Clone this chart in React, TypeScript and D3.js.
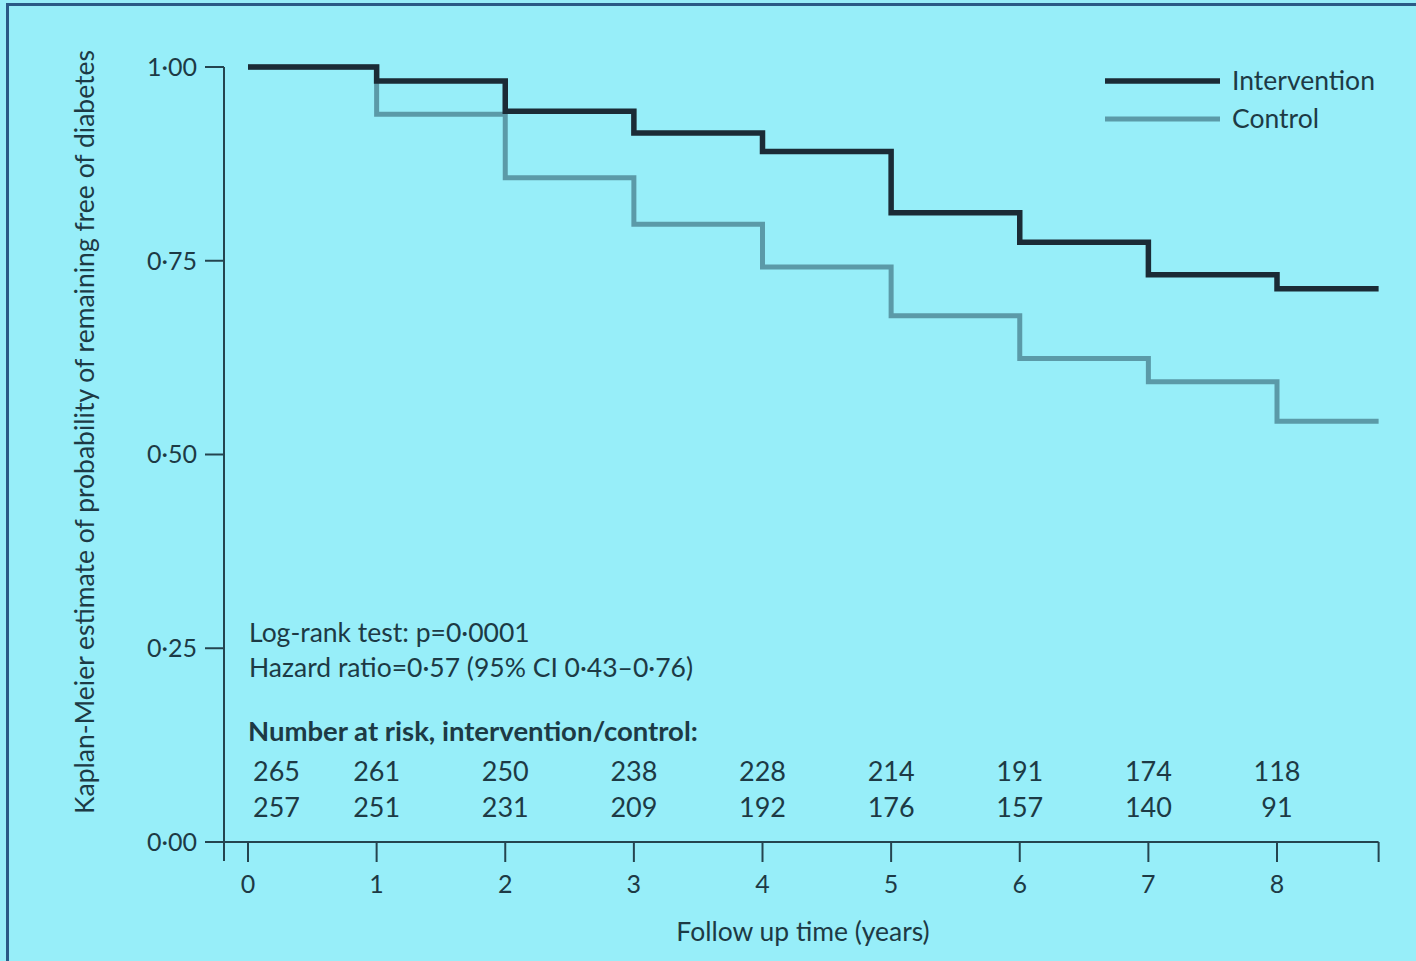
import React, { useEffect, useRef } from 'react';
import * as d3 from 'd3';

// follow-up years where the curves step down
const years = [0, 1, 2, 3, 4, 5, 6, 7, 8];
const endYear = 8.79;
const intervention = [1.0, 0.982, 0.943, 0.915, 0.891, 0.812, 0.774, 0.732, 0.714];
const control = [1.0, 0.939, 0.857, 0.797, 0.742, 0.679, 0.624, 0.594, 0.543];
const yTicks = [0, 0.25, 0.5, 0.75, 1];
const riskIntervention = [265, 261, 250, 238, 228, 214, 191, 174, 118];
const riskControl = [257, 251, 231, 209, 192, 176, 157, 140, 91];

const W = 1416;
const H = 961;
const FONT = 'Lato, "Open Sans", sans-serif';
const TXT = '#1d3a45';
const AXIS = '#24444f';

export default function App() {
  const svgRef = useRef<SVGSVGElement>(null);

  useEffect(() => {
    const svg = d3.select(svgRef.current);
    svg.selectAll('*').remove();

    const x = d3.scaleLinear().domain([0, 8]).range([248, 1277]);
    const y = d3.scaleLinear().domain([0, 1]).range([842, 67]);

    // background + frame
    svg.append('rect').attr('width', W).attr('height', H).attr('fill', '#97eef9');
    svg.append('rect')
      .attr('x', 7.5).attr('y', 4.5).attr('width', W + 20).attr('height', H + 20)
      .attr('fill', 'none').attr('stroke', '#2a5a86').attr('stroke-width', 3);

    // y axis
    const gy = svg.append('g');
    gy.append('line')
      .attr('x1', 224).attr('x2', 224).attr('y1', y(1)).attr('y2', 861)
      .attr('stroke', AXIS).attr('stroke-width', 2);
    gy.selectAll('line.tick').data(yTicks).enter().append('line')
      .attr('class', 'tick')
      .attr('x1', 205).attr('x2', 224)
      .attr('y1', d => y(d)).attr('y2', d => y(d))
      .attr('stroke', AXIS).attr('stroke-width', 2);
    gy.selectAll('text').data(yTicks).enter().append('text')
      .attr('x', 197).attr('y', d => y(d))
      .attr('dy', '0.35em')
      .attr('text-anchor', 'end')
      .attr('font-family', FONT).attr('font-size', 25).attr('fill', TXT)
      .text(d => d3.format('.2f')(d).replace('.', '·'));

    svg.append('text')
      .attr('transform', 'translate(85,432) rotate(-90)')
      .attr('dy', '0.35em')
      .attr('text-anchor', 'middle')
      .attr('font-family', FONT).attr('font-size', 26.5).attr('fill', TXT)
      .text('Kaplan-Meier estimate of probability of remaining free of diabetes');

    // x axis
    const gx = svg.append('g');
    gx.append('line')
      .attr('x1', 205).attr('x2', x(endYear)).attr('y1', 842).attr('y2', 842)
      .attr('stroke', AXIS).attr('stroke-width', 2);
    gx.selectAll('line.tick').data([...years, endYear]).enter().append('line')
      .attr('class', 'tick')
      .attr('x1', d => x(d)).attr('x2', d => x(d))
      .attr('y1', 842).attr('y2', 862)
      .attr('stroke', AXIS).attr('stroke-width', 2);
    gx.selectAll('text').data(years).enter().append('text')
      .attr('x', d => x(d)).attr('y', 884)
      .attr('dy', '0.35em')
      .attr('text-anchor', 'middle')
      .attr('font-family', FONT).attr('font-size', 25).attr('fill', TXT)
      .text(d => String(d));

    svg.append('text')
      .attr('x', 803).attr('y', 932).attr('dy', '0.35em')
      .attr('text-anchor', 'middle')
      .attr('font-family', FONT).attr('font-size', 26.5).attr('fill', TXT)
      .text('Follow up time (years)');

    // survival curves
    const line = d3.line<[number, number]>()
      .x(d => x(d[0]))
      .y(d => y(d[1]))
      .curve(d3.curveStepAfter);
    const pts = (vals: number[]) =>
      [...years.map((t, i) => [t, vals[i]] as [number, number]), [endYear, vals[vals.length - 1]] as [number, number]];

    svg.append('path')
      .attr('d', line(pts(control)))
      .attr('fill', 'none').attr('stroke', '#5b9aa8').attr('stroke-width', 5)
      .attr('stroke-linejoin', 'miter');
    svg.append('path')
      .attr('d', line(pts(intervention)))
      .attr('fill', 'none').attr('stroke', '#1b2b36').attr('stroke-width', 5.5)
      .attr('stroke-linejoin', 'miter');

    // legend
    const legend = [
      { name: 'Intervention', color: '#1b2b36', w: 5.5, y: 81 },
      { name: 'Control', color: '#5b9aa8', w: 5, y: 119 },
    ];
    const lg = svg.append('g');
    legend.forEach(l => {
      lg.append('line')
        .attr('x1', 1105).attr('x2', 1220).attr('y1', l.y).attr('y2', l.y)
        .attr('stroke', l.color).attr('stroke-width', l.w);
      lg.append('text')
        .attr('x', 1232).attr('y', l.y).attr('dy', '0.35em')
        .attr('font-family', FONT).attr('font-size', 26.5).attr('fill', TXT)
        .text(l.name);
    });

    // annotations
    const notes = svg.append('g')
      .attr('font-family', FONT).attr('font-size', 26.5).attr('fill', TXT);
    notes.append('text').attr('x', 249).attr('y', 633).attr('dy', '0.35em')
      .text('Log-rank test: p=0·0001');
    notes.append('text').attr('x', 249).attr('y', 668).attr('dy', '0.35em')
      .text('Hazard ratio=0·57 (95% CI 0·43–0·76)');
    notes.append('text').attr('x', 248).attr('y', 731).attr('dy', '0.35em')
      .attr('font-weight', 'bold').attr('font-size', 27.5)
      .text('Number at risk, intervention/control:');

    // number at risk table
    const rows = [
      { vals: riskIntervention, y: 772 },
      { vals: riskControl, y: 808 },
    ];
    rows.forEach(r => {
      notes.selectAll(null).data(r.vals).enter().append('text')
        .attr('x', (d, i) => (i === 0 ? 253 : x(years[i])))
        .attr('y', r.y).attr('dy', '0.35em')
        .attr('text-anchor', (d, i) => (i === 0 ? 'start' : 'middle'))
        .attr('font-size', 27)
        .text(d => String(d));
    });
  }, []);

  return (
    <svg
      ref={svgRef}
      width={W}
      height={H}
      style={{ position: 'absolute', left: 0, top: 0, display: 'block' }}
    />
  );
}
